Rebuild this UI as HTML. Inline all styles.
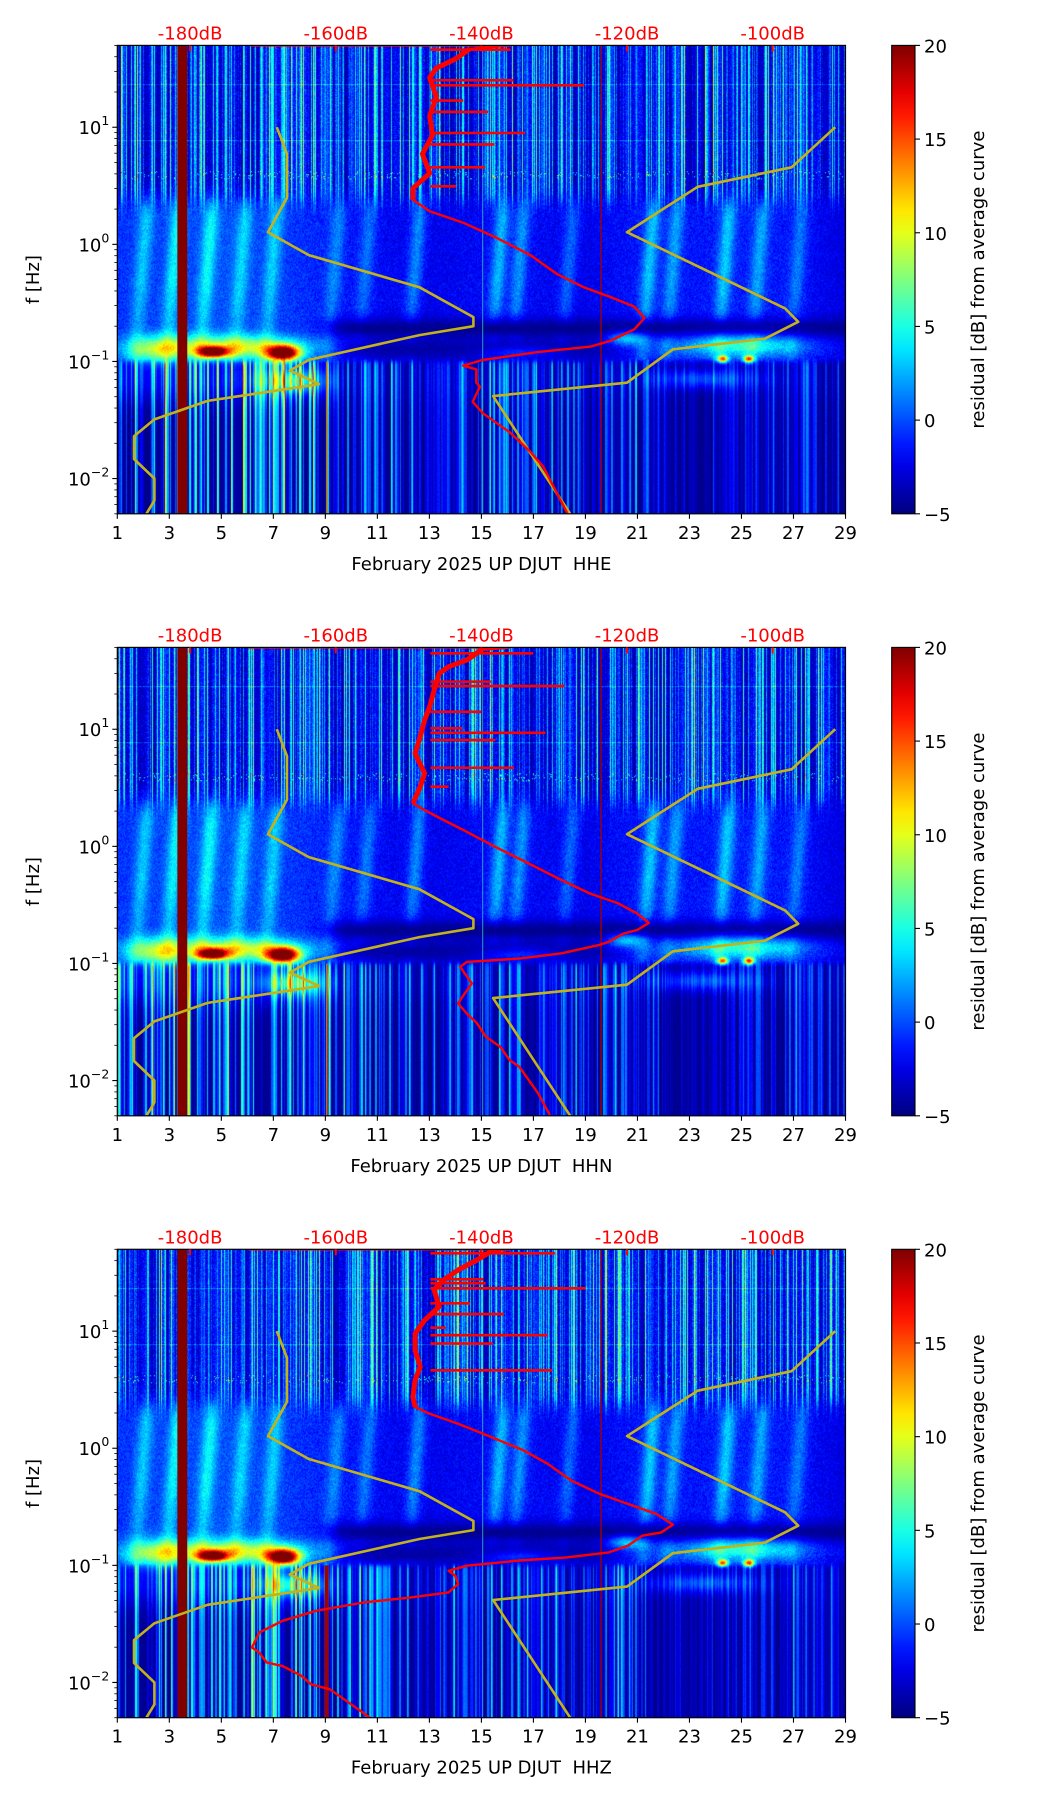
<!DOCTYPE html>
<html><head><meta charset="utf-8">
<style>
html,body{margin:0;padding:0;background:#fff;}
#wrap{position:relative;width:1052px;height:1806px;overflow:hidden;background:#fff;}
canvas{position:absolute;}
svg{position:absolute;left:0;top:0;}
text{font-family:"DejaVu Sans","Liberation Sans",sans-serif;}
</style></head>
<body>
<div id="wrap">
<canvas id="c0" width="728" height="468" style="left:117.3px;top:45.4px;width:728.2px;height:468.4px"></canvas>
<canvas id="c1" width="728" height="468" style="left:117.3px;top:647.4px;width:728.2px;height:468.4px"></canvas>
<canvas id="c2" width="728" height="468" style="left:117.3px;top:1249.3px;width:728.2px;height:468.4px"></canvas>
<svg id="s" width="1052" height="1806"></svg>
</div>
<script>
// ---------------- data ----------------
const xTicksDays = [1,3,5,7,9,11,13,15,17,19,21,23,25,27,29];
const dbTicks = [-180,-160,-140,-120,-100];
const cbTicks = [-5,0,5,10,15,20];
const yDecades = [-2,-1,0,1];
const channels = ["HHE","HHN","HHZ"];

const yellowLowDB = [-168.1,-166.7,-166.7,-169.3,-163.7,-148.5,-141.1,-141.1,-148.5,-163.7,-166.3,-162.3,-177.6,-184.9,-187.7,-187.7,-184.9,-184.9,-186.0];
const yellowLowHz = [10,5.9,2.5,1.27,0.81,0.43,0.239,0.2,0.168,0.103,0.0835,0.064,0.046,0.032,0.023,0.0147,0.01,0.0065,0.005];
const yellowHighDB = [-91.4,-97.4,-110.3,-120.0,-98.3,-96.5,-101.1,-113.7,-120.0,-138.4,-127.8];
const yellowHighHz = [10,4.55,3.1,1.27,0.284,0.218,0.156,0.127,0.0658,0.0506,0.005];

const redHHE_DB = [-171.6,-136,-141.6,-143.5,-146.2,-147.1,-146.2,-147.1,-146.7,-148.1,-147.1,-149.4,-149.4,-147.1,-142.5,-137.9,-133.3,-129.6,-125.9,-122.3,-119.0,-117.6,-119.0,-122.3,-125.0,-132.4,-139.8,-142.5,-140.7,-140.7,-140.2,-141.2,-139.8,-136.1,-133.3,-131.5,-129.6,-128.2];
const redHHE_Hz = [50,50,46.6,38.5,32.0,26.5,18.2,12.5,8.61,5.92,4.06,3.01,2.40,1.92,1.53,1.135,0.811,0.557,0.429,0.355,0.294,0.235,0.188,0.150,0.134,0.120,0.103,0.092,0.0855,0.0658,0.061,0.0452,0.0361,0.0248,0.017,0.0126,0.00746,0.00506];
const redHHN_DB = [-172,-136,-140.0,-142.0,-144.5,-145.8,-146.5,-147.1,-147.8,-148.4,-149.1,-147.8,-148.4,-149.4,-147.8,-145.2,-142.0,-138.1,-133.5,-129.0,-125.1,-121.2,-118.6,-117.0,-118.6,-120.5,-122.5,-123.8,-129.0,-134.8,-142.0,-142.9,-142.3,-141.3,-142.3,-143.2,-142.0,-140.6,-139.4,-137.4,-136.1,-134.8,-133.5,-132.2,-130.6];
const redHHN_Hz = [50,50,47.5,39.0,34.2,30.0,21.6,15.6,12.0,8.63,6.22,4.20,3.23,2.33,2.04,1.68,1.33,0.991,0.714,0.515,0.396,0.326,0.267,0.222,0.193,0.180,0.153,0.144,0.122,0.110,0.103,0.0937,0.0822,0.0675,0.0555,0.0455,0.0374,0.0308,0.0237,0.0194,0.0149,0.0131,0.0101,0.00776,0.00506];
const redHHZ_DB = [-172,-136,-138.7,-140.6,-143.2,-145.2,-146.5,-145.8,-147.8,-149.1,-149.1,-148.4,-149.1,-149.4,-149.1,-147.1,-143.2,-138.7,-134.2,-130.9,-127.7,-123.8,-119.9,-116.0,-113.7,-115.3,-117.9,-119.9,-122.5,-128.3,-134.8,-142.0,-144.5,-143.6,-143.2,-144.5,-149.7,-156.2,-162.7,-167.3,-170.5,-171.5,-170.5,-169.5,-167.3,-164.7,-163.4,-160.8,-158.2,-155.3];
const redHHZ_Hz = [50,50,47.8,40.5,33.3,27.3,22.5,16.2,12.4,9.55,6.87,4.95,3.81,2.74,2.25,1.97,1.62,1.25,0.958,0.736,0.531,0.408,0.335,0.275,0.223,0.191,0.179,0.147,0.129,0.117,0.110,0.0993,0.0899,0.0816,0.0692,0.0587,0.0532,0.0482,0.0409,0.0336,0.0267,0.0199,0.018,0.0148,0.0138,0.0114,0.00964,0.00874,0.00672,0.005];

const spikeBaseDB = -147;
const spikesHHE_Hz = [22.8,25.2,8.93,7.13,4.55,3.13,13.5,16.9,46];
const spikesHHE_DB = [-125.9,-135.6,-134.0,-138.2,-139.5,-143.5,-139.1,-142.5,-136];
const spikesHHN_Hz = [44.5,25.5,23.4,14.1,10.2,9.33,8.09,4.69,3.23];
const spikesHHN_DB = [-132.9,-138.7,-128.6,-140.0,-142.6,-131.2,-138.1,-135.5,-144.5];
const spikesHHZ_Hz = [46.2,27.7,25.6,23.2,17.3,14.0,10.7,9.24,7.84,4.63];
const spikesHHZ_DB = [-129.9,-139.7,-139.4,-125.7,-141.6,-136.9,-144.9,-130.9,-138.4,-130.3];

const bandStartDay = 3.31, bandEndDay = 3.69;
const thinRedDay = 19.6, thinOrangeDay = 9.05, thinCyanDay = 15.05;

const midLevelDays = [1,3,5,7,9,11,13,15,17,19,21,23,25,27,29];
const midLevelVals = [1.5,2,2.5,2,1,0,-0.5,0,0,-0.5,0.5,0.5,0.8,0.5,-1];
const lowActDays = [1,3,5,7,9,11,13,15,17,19,21,23,25,27,29];
const lowActVals = [0.8,0.9,0.9,1.0,0.8,0.7,0.55,0.6,0.6,0.6,0.6,0.15,0.35,0.5,0.4];
const eventDays = [1.8,3.0,4.3,5.6,6.8,9.2,10.4,12.3,15.5,16.3,18.2,21.3,22.2,24.2,25.5,27.0];
const eventAmp = [4,5,5,4,4,3,3,4,5,4,3,5,4,5,4,3];
const blobDay = [4.7,7.4,24.3,25.3,5.5,7.8,25.0,20.6,16.5,2.5,23.5];
const blobLogF = [-0.92,-0.93,-0.98,-0.98,-0.88,-1.17,-0.86,-0.8,-0.92,-0.9,-1.15];
const blobAmp = [19,23,15,15,10,7,7,6,3,7,4];
const blobWd = [0.55,0.6,0.2,0.2,2.8,1.1,2.4,0.7,1.5,1.2,2];
const blobWl = [0.045,0.065,0.03,0.03,0.1,0.1,0.1,0.06,0.05,0.12,0.08];

// ---------------- geometry ----------------
const PX0 = 117.3, PW = 728.2, PH = 468.4, TOPS = [45.4,647.4,1249.3];
const LTOP = Math.log10(50), LBOT = Math.log10(0.005);
function xDay(d){ return PX0 + (d-1)/28*PW; }
function xDB(db){ return PX0 + (db+190)/100*PW; }
function yLog(L,p){ return TOPS[p] + (LTOP-L)/(LTOP-LBOT)*PH; }
function yF(f,p){ return yLog(Math.log10(f),p); }
const CBX = 891.7, CBW = 23.3;
function yCb(v,p){ return TOPS[p] + (20-v)/25*PH; }

function interp(xs,ys,x){
  if(x<=xs[0]) return ys[0];
  for(let i=1;i<xs.length;i++){ if(x<=xs[i]){ const t=(x-xs[i-1])/(xs[i]-xs[i-1]); return ys[i-1]+t*(ys[i]-ys[i-1]); } }
  return ys[ys.length-1];
}
function hash(n){ n = n|0; n = Math.imul(n ^ (n>>>16), 0x45d9f3b); n = Math.imul(n ^ (n>>>16), 0x45d9f3b); n = n ^ (n>>>16); return (n>>>0)/4294967296; }
function sig(x){ return 1/(1+Math.exp(-x)); }
function jet(v){
  let t = (v+5)/25; t = Math.max(0,Math.min(1,t));
  const c = x=>Math.max(0,Math.min(1,x));
  return [c(1.5-Math.abs(4*t-3))*255, c(1.5-Math.abs(4*t-2))*255, c(1.5-Math.abs(4*t-1))*255];
}

// ---------------- spectrogram texture ----------------
function drawSpec(p){
  const cv = document.getElementById('c'+p), ctx = cv.getContext('2d');
  const W = cv.width, H = cv.height, img = ctx.createImageData(W,H), D = img.data;
  const colA=[], colB=[], colC=[];
  for(let x=0;x<W;x++){ colA.push(hash(x*17+p*7919+3)); colB.push(hash((x>>2)*31+p*104729+11)); colC.push(hash((x>>1)*53+p*613+5)); }
  const midB=[], act=[], days=[];
  for(let x=0;x<W;x++){ const d=1+(x+0.5)/W*28; days.push(d); midB.push(interp(midLevelDays,midLevelVals,d)); act.push(interp(lowActDays,lowActVals,d)); }
  for(let y=0;y<H;y++){
    const L = LTOP - (y+0.5)/H*(LTOP-LBOT);
    const wUp = sig((L-0.38)/0.05);
    const wLow = sig((-1.0-L)/0.012);
    const nearMicro = Math.exp(-Math.pow((L+1.15)/0.2,2));
    for(let x=0;x<W;x++){
      const d = days[x];
      const pn = hash(x*131 + y*977 + p*100003);
      let blobs = 0;
      for(let i=0;i<blobDay.length;i++){
        const dd=(d-blobDay[i])/blobWd[i], dl=(L-blobLogF[i])/blobWl[i];
        const e=dd*dd+dl*dl; if(e<12) blobs += blobAmp[i]*Math.exp(-e);
      }
      let vu = -4.6 + 10*Math.pow(colA[x],3.5) + 3.5*colB[x]*colB[x] + 2.5*pn*pn;
      if(Math.abs(L-0.88)<0.005 || Math.abs(L-1.36)<0.005) vu += 2.5;
      if(L<0.62 && L>0.55 && pn>0.94) vu += 6;
      let tails = 0;
      for(let i=0;i<eventDays.length;i++){
        const c = eventDays[i] + (L+0.7)*0.35;
        const z = (d-c)/0.3; if(z*z<10) tails += eventAmp[i]*Math.exp(-z*z);
      }
      const fw = Math.max(0, Math.min(1, 1.25 - Math.abs(L+0.05)*0.9));
      let vm = -3.0 + midB[x]*0.8 + tails*fw*0.9 + 2.2*pn;
      const dk = Math.exp(-Math.pow((L+0.72)/0.09,2)) * sig((d-9.2)/0.3);
      vm = vm*(1-dk) + (-5+0.8*pn)*dk;
      const dm = Math.exp(-Math.pow((L+0.9)/0.1,2)) * sig((d-9.6)/0.3)*sig((20-d)/0.4);
      vm = vm*(1-dm) + (-4.6+pn)*dm;
      const s1 = Math.max(0,(colC[x]-0.35)/0.65);
      let vl = -5 + act[x]*(11*Math.pow(s1,1.3) + 8*Math.pow(colA[x],6)) + 0.6*pn;
      vl += 3*act[x]*nearMicro*(d<9.5?1:0.3);
      let v = wUp*vu + (1-wUp)*((1-wLow)*vm + wLow*vl);
      v += blobs*(1-wUp);
      const c = jet(v), k=(y*W+x)*4;
      D[k]=c[0]; D[k+1]=c[1]; D[k+2]=c[2]; D[k+3]=255;
    }
  }
  ctx.putImageData(img,0,0);
}
[0,1,2].forEach(drawSpec);

// ---------------- svg overlay ----------------
const NS = 'http://www.w3.org/2000/svg';
const svg = document.getElementById('s');
function mk(tag, attrs, parent){ const e=document.createElementNS(NS,tag); for(const k in attrs) e.setAttribute(k,attrs[k]); (parent||svg).appendChild(e); return e; }

const defs = mk('defs',{});
const grad = mk('linearGradient',{id:'jetg',x1:0,y1:1,x2:0,y2:0},defs);
for(let i=0;i<=20;i++){ const v=-5+25*i/20, c=jet(v); mk('stop',{offset:(i/20),'stop-color':`rgb(${c[0]|0},${c[1]|0},${c[2]|0})`},grad); }
[0,1,2].forEach(p=>{ const cp=mk('clipPath',{id:'clip'+p},defs); mk('rect',{x:PX0,y:TOPS[p],width:PW,height:PH},cp); });

const redDB = [redHHE_DB, redHHN_DB, redHHZ_DB];
const redHz = [redHHE_Hz, redHHN_Hz, redHHZ_Hz];
const spHz = [spikesHHE_Hz, spikesHHN_Hz, spikesHHZ_Hz];
const spDB = [spikesHHE_DB, spikesHHN_DB, spikesHHZ_DB];

function pathFrom(dbs,hzs,p){ let s=''; for(let i=0;i<dbs.length;i++){ s += (i?'L':'M') + xDB(dbs[i]).toFixed(1)+','+yF(hzs[i],p).toFixed(1); } return s; }

for(let p=0;p<3;p++){
  const top = TOPS[p], bot = top+PH;
  const g = mk('g',{'clip-path':'url(#clip'+p+')'});
  
  

  const band = mk('rect',{x:xDay(bandStartDay),y:top,width:xDay(bandEndDay)-xDay(bandStartDay),height:PH,fill:'#800000'},g);
  
  
  const tr = mk('line',{x1:xDay(thinRedDay),x2:xDay(thinRedDay),y1:top,y2:bot,stroke:'#a00000','stroke-width':1.4},g);
  
  
  const to = mk('line',{x1:xDay(thinOrangeDay),x2:xDay(thinOrangeDay),y1:yF(0.1,p),y2:bot,stroke:p==2?'#a00000':'#e06000','stroke-width':p==2?4:1.5},g);
  
  
  const tc = mk('line',{x1:xDay(thinCyanDay),x2:xDay(thinCyanDay),y1:top,y2:bot,stroke:'#40d8d0','stroke-width':1,'stroke-opacity':0.7},g);
  
  

  const y1 = mk('path',{d:pathFrom(yellowLowDB,yellowLowHz,p),fill:'none',stroke:'#c4b21a','stroke-width':2.6,'stroke-linejoin':'round'},g);
  
  
  const y2 = mk('path',{d:pathFrom(yellowHighDB,yellowHighHz,p),fill:'none',stroke:'#c4b21a','stroke-width':2.6,'stroke-linejoin':'round'},g);
  
  

  const r = mk('path',{d:pathFrom(redDB[p],redHz[p],p),fill:'none',stroke:'#ff0000','stroke-width':2.4,'stroke-linejoin':'round'},g);
  
  
  const hi = [], hiHz = [];
  for(let i=2;i<redDB[p].length;i++){ if(redHz[p][i]>2.1){ hi.push(redDB[p][i]); hiHz.push(redHz[p][i]); } }
  const rh = mk('path',{d:pathFrom(hi,hiHz,p),fill:'none',stroke:'#ff0000','stroke-width':5,'stroke-linejoin':'round'},g);
  
  
  for(let i=0;i<spHz[p].length;i++){
    const sp = mk('line',{x1:xDB(spikeBaseDB),x2:xDB(spDB[p][i]),y1:yF(spHz[p][i],p),y2:yF(spHz[p][i],p),stroke:'#ff0000','stroke-width':2.6},g);
    
    
  }

  const fr = mk('rect',{x:PX0,y:top,width:PW,height:PH,fill:'none',stroke:'#000','stroke-width':1.2});
  
  

  xTicksDays.forEach(d=>{
    const x=xDay(d);
    const t=mk('line',{x1:x,x2:x,y1:bot,y2:bot+5,stroke:'#000','stroke-width':1.1});
    
    
    const l=mk('text',{x:x,y:bot+25,'font-size':18,'text-anchor':'middle',fill:'#000'}); l.textContent=d;
    
    
  });
  const xl = mk('text',{x:PX0+PW/2,y:bot+56,'font-size':18,'text-anchor':'middle',fill:'#000'});
  xl.textContent = 'February 2025 UP DJUT \u00a0' + channels[p];
  
  

  dbTicks.forEach(db=>{
    const x=xDB(db);
    const t=mk('line',{x1:x,x2:x,y1:top,y2:top+6,stroke:'#ff0000','stroke-width':2});
    
    
    const l=mk('text',{x:x,y:top-6,'font-size':18,'text-anchor':'middle',fill:'#ff0000'}); l.textContent=db+'dB';
    
    
  });

  for(let dec=-3; dec<=1; dec++){
    for(let m=1;m<10;m++){
      const L = dec + Math.log10(m);
      if(L < LBOT-1e-6 || L > LTOP+1e-6) continue;
      const y=yLog(L,p), len = m==1?5:3;
      const t=mk('line',{x1:PX0-len,x2:PX0,y1:y,y2:y,stroke:'#000','stroke-width':m==1?1.1:0.8});
      
      
    }
  }
  yDecades.forEach(dec=>{
    const y=yLog(dec,p);
    const l=mk('text',{x:PX0-8,y:y+7,'font-size':18,'text-anchor':'end',fill:'#000'});
    
    
    const a=mk('tspan',{},l); a.textContent='10';
    const b=mk('tspan',{dy:-9,'font-size':12.5},l); b.textContent=(dec<0?'\u2212':'')+Math.abs(dec);
  });
  const yl = mk('text',{x:0,y:0,'font-size':18,'text-anchor':'middle',fill:'#000',transform:`translate(39,${top+PH/2}) rotate(-90)`});
  yl.textContent='f [Hz]';
  
  

  const cb = mk('rect',{x:CBX,y:top,width:CBW,height:PH,fill:'url(#jetg)',stroke:'#000','stroke-width':1.1});
  
  
  cbTicks.forEach(v=>{
    const y=yCb(v,p);
    const t=mk('line',{x1:CBX+CBW,x2:CBX+CBW+5,y1:y,y2:y,stroke:'#000','stroke-width':1.1});
    
    
    const l=mk('text',{x:CBX+CBW+9,y:y+7,'font-size':18,fill:'#000'}); l.textContent=(v<0?'\u2212':'')+Math.abs(v);
    
    
  });
  const cl = mk('text',{x:0,y:0,'font-size':18,'text-anchor':'middle',fill:'#000',transform:`translate(984,${top+PH/2}) rotate(-90)`});
  cl.textContent='residual [dB] from average curve';
  
  
}
</script>
</body></html>
